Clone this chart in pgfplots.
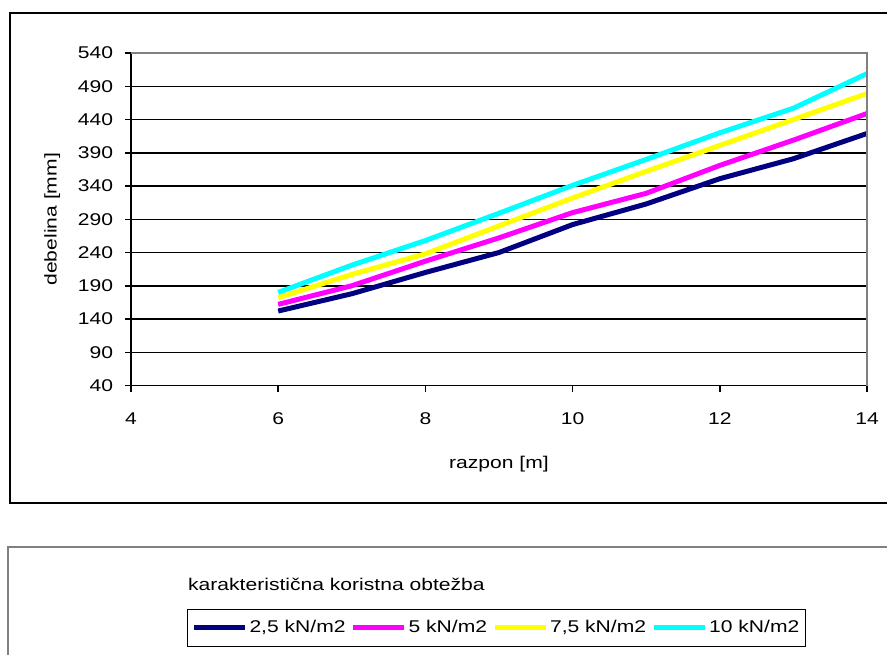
\documentclass[border=0pt]{standalone}
\usepackage{fontspec}
\setmainfont{Liberation Sans}[FakeStretch=1.24]
\usepackage{pgfplots}
\pgfplotsset{compat=1.18}
\definecolor{navyc}{RGB}{0,0,128}
\definecolor{magc}{RGB}{255,0,255}
\definecolor{yelc}{RGB}{255,255,0}
\definecolor{cyac}{RGB}{0,255,255}
\definecolor{frgray}{RGB}{128,128,128}
\begin{document}
\fontsize{17bp}{20bp}\selectfont
\begin{tikzpicture}
\path[use as bounding box] (0bp,0bp) rectangle (887bp,-655bp);
\draw[line width=2bp] (10bp,-13bp) rectangle (900bp,-502.5bp);
\draw[line width=2bp,frgray] (8bp,-547bp) rectangle (900bp,-700bp);
\node[anchor=base west,inner sep=0pt] at (188bp,-590bp) {karakteristična koristna obtežba};
\begin{axis}[
  name=ax,
  at={(131bp,-385.5bp)}, anchor=south west,
  scale only axis, width=736bp, height=332.5bp,
  xmin=4, xmax=14, ymin=40, ymax=540,
  xtick={4,6,...,14}, ytick={40,90,...,540},
  axis x line*=bottom, axis y line*=left,
  axis line style={line width=1.5bp,-},
  tick align=outside, major tick length=6bp,
  tick style={line width=1.5bp,black},
  ymajorgrids, grid style={line width=1.5bp,black},
  /pgf/number format/assume math mode=true,
  ticklabel style={font=\fontsize{17bp}{20bp}\selectfont},
  yticklabel style={xshift=-6bp},
  xticklabel style={yshift=-15bp},
  xlabel={razpon [m]}, ylabel={debelina [mm]},
  label style={font=\fontsize{17bp}{20bp}\selectfont},
  xlabel style={at={(axis description cs:0.5,0)},anchor=north,yshift=-65bp},
  ylabel style={at={(axis description cs:-0.107,0.5)},anchor=center},
  legend columns=4,
  legend style={at={(0.0761,-0.672)},anchor=north west,draw=black,line width=1bp,
    font=\fontsize{17bp}{20bp}\selectfont,inner xsep=4bp,inner ysep=9bp,
    nodes={inner sep=2bp},
    /tikz/every even column/.append style={column sep=3bp},
    /tikz/every odd column/.append style={column sep=0bp}},
  legend image code/.code={\draw[line width=5bp,#1] (0bp,0bp) -- (51bp,0bp);},
  clip=false,
]
\addplot[navyc,line width=5bp] coordinates {(6,152) (7,178) (8,210) (9,240) (10,282) (11,313) (12,351) (13,381) (14,419)};
\addlegendentry{2,5 kN/m2}
\addplot[magc,line width=5bp] coordinates {(6,162) (7,190) (8,227) (9,262) (10,300) (11,329) (12,371) (13,409) (14,449)};
\addlegendentry{5 kN/m2}
\addplot[yelc,line width=5bp] coordinates {(6,172) (7,207) (8,238) (9,280) (10,322) (11,362) (12,401) (13,440) (14,479)};
\addlegendentry{7,5 kN/m2}
\addplot[cyac,line width=5bp] coordinates {(6,180) (7,221) (8,258) (9,299) (10,341) (11,380) (12,420) (13,457) (14,509)};
\addlegendentry{10 kN/m2}
\end{axis}
\draw[frgray,line width=1.5bp] (ax.north west) -- (ax.north east) -- (ax.south east);
\end{tikzpicture}
\end{document}
